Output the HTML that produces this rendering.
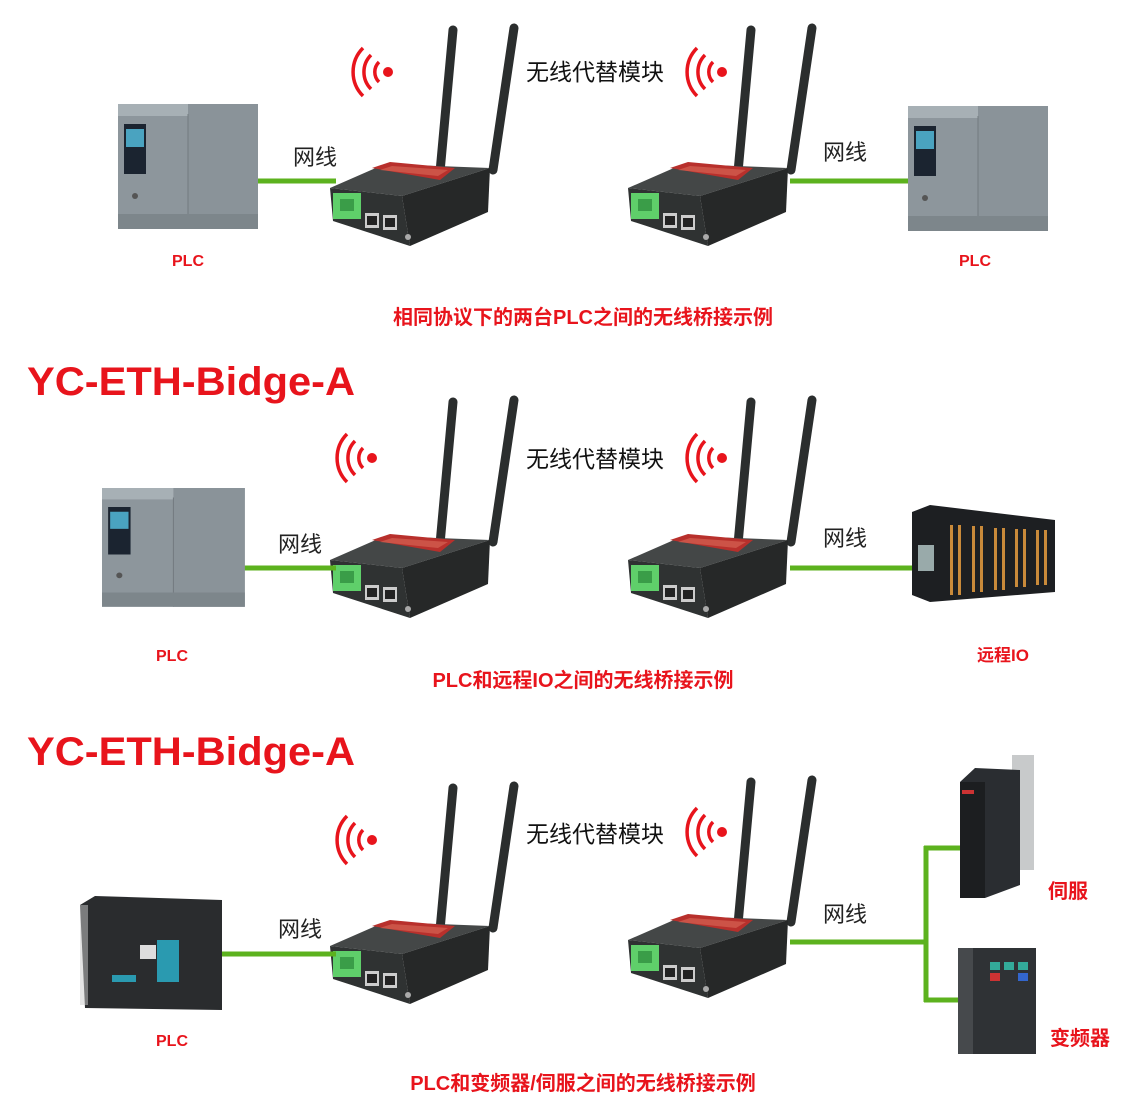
<!DOCTYPE html>
<html><head><meta charset="utf-8"><style>
html,body{margin:0;padding:0;background:#fff;}
svg{display:block;}
text{font-family:"Liberation Sans","Noto Sans CJK SC",sans-serif;}
</style></head><body>
<svg width="1130" height="1111" viewBox="0 0 1130 1111" xmlns="http://www.w3.org/2000/svg">
<defs>
<g id="router">
  <line x1="453" y1="30" x2="440" y2="172" stroke="#2b2e2e" stroke-width="9" stroke-linecap="round"/>
  <line x1="514" y1="28" x2="493" y2="170" stroke="#2b2e2e" stroke-width="9" stroke-linecap="round"/>
  <polygon points="330,188 385,164 490,168 402,196" fill="#444747"/>
  <polygon points="372,168 390,162 455,168 440,180" fill="#b8302c"/>
  <polygon points="380,170 392,166 448,170 438,176" fill="#d86a5a" opacity="0.6"/>
  <polygon points="330,188 402,196 410,246 333,221" fill="#2f3232"/>
  <polygon points="402,196 490,168 488,212 410,246" fill="#262828"/>
  <rect x="333" y="193" width="28" height="26" fill="#5fcf6a"/>
  <rect x="340" y="199" width="14" height="12" fill="#3a9d48"/>
  <rect x="365" y="213" width="14" height="15" fill="#ccc"/>
  <rect x="367" y="216" width="10" height="9" fill="#222"/>
  <rect x="383" y="215" width="14" height="15" fill="#ccc"/>
  <rect x="385" y="218" width="10" height="9" fill="#222"/>
  <circle cx="408" cy="237" r="3" fill="#aaa"/>
</g>
<g id="sig">
  <circle cx="0" cy="0" r="5" fill="#e8141c"/>
  <path d="M-9,-10 A14,14 0 0 0 -9,10" fill="none" stroke="#e8141c" stroke-width="3.5"/>
  <path d="M-17,-17 A24,24 0 0 0 -17,17" fill="none" stroke="#e8141c" stroke-width="3.5"/>
  <path d="M-25,-24 A34,34 0 0 0 -25,24" fill="none" stroke="#e8141c" stroke-width="3.5"/>
</g>
<g id="splc">
  <rect x="0" y="0" width="140" height="125" fill="#8d969c"/>
  <rect x="0" y="0" width="140" height="12" fill="#a7b0b5"/>
  <rect x="70" y="0" width="70" height="125" fill="#8a9399"/>
  <line x1="70" y1="10" x2="70" y2="125" stroke="#737b80"/>
  <rect x="6" y="20" width="22" height="50" fill="#1b2430"/>
  <rect x="8" y="25" width="18" height="18" fill="#4aa3c0"/>
  <circle cx="17" cy="92" r="3" fill="#555"/>
  <rect x="0" y="110" width="140" height="15" fill="#7d868b"/>
</g>
</defs>

<!-- Section 1 -->
<use href="#router"/>
<use href="#router" transform="translate(298,0)"/>
<use href="#sig" transform="translate(388,72)"/>
<use href="#sig" transform="translate(722,72)"/>
<line x1="258" y1="181" x2="336" y2="181" stroke="#5cb21e" stroke-width="5"/>
<line x1="790" y1="181" x2="910" y2="181" stroke="#5cb21e" stroke-width="5"/>
<use href="#splc" transform="translate(118,104)"/>
<use href="#splc" transform="translate(908,106)"/>
<text x="595" y="80" font-size="23" text-anchor="middle" fill="#111">无线代替模块</text>
<text x="293" y="165" font-size="22" fill="#222">网线</text>
<text x="823" y="160" font-size="22" fill="#222">网线</text>
<text x="188" y="266" font-size="16" font-weight="bold" text-anchor="middle" fill="#e8141c">PLC</text>
<text x="975" y="266" font-size="16" font-weight="bold" text-anchor="middle" fill="#e8141c">PLC</text>
<text x="583" y="324" font-size="20" font-weight="bold" text-anchor="middle" fill="#e8141c">相同协议下的两台PLC之间的无线桥接示例</text>

<!-- Section 2 -->
<text x="27" y="395" font-size="40" font-weight="bold" textLength="328" lengthAdjust="spacingAndGlyphs" fill="#e8141c">YC-ETH-Bidge-A</text>
<use href="#router" transform="translate(0,372)"/>
<use href="#router" transform="translate(298,372)"/>
<use href="#sig" transform="translate(372,458)"/>
<use href="#sig" transform="translate(722,458)"/>
<line x1="244" y1="568" x2="336" y2="568" stroke="#5cb21e" stroke-width="5"/>
<line x1="790" y1="568" x2="912" y2="568" stroke="#5cb21e" stroke-width="5"/>
<use href="#splc" transform="translate(102,488) scale(1.02,0.95)"/>
<g>
  <polygon points="912,512 930,505 1055,520 1055,592 930,602 912,595" fill="#1d1f22"/>
  <rect x="918" y="545" width="16" height="26" fill="#9aa"/>
  <g fill="#c98a3a">
    <rect x="950" y="525" width="3" height="70"/><rect x="958" y="525" width="3" height="70"/>
    <rect x="972" y="526" width="3" height="66"/><rect x="980" y="526" width="3" height="66"/>
    <rect x="994" y="528" width="3" height="62"/><rect x="1002" y="528" width="3" height="62"/>
    <rect x="1015" y="529" width="3" height="58"/><rect x="1023" y="529" width="3" height="58"/>
    <rect x="1036" y="530" width="3" height="55"/><rect x="1044" y="530" width="3" height="55"/>
  </g>
</g>
<text x="595" y="467" font-size="23" text-anchor="middle" fill="#111">无线代替模块</text>
<text x="278" y="552" font-size="22" fill="#222">网线</text>
<text x="823" y="546" font-size="22" fill="#222">网线</text>
<text x="172" y="661" font-size="16" font-weight="bold" text-anchor="middle" fill="#e8141c">PLC</text>
<text x="1003" y="661" font-size="17" font-weight="bold" text-anchor="middle" fill="#e8141c">远程IO</text>
<text x="583" y="687" font-size="20" font-weight="bold" text-anchor="middle" fill="#e8141c">PLC和远程IO之间的无线桥接示例</text>

<!-- Section 3 -->
<text x="27" y="765" font-size="40" font-weight="bold" textLength="328" lengthAdjust="spacingAndGlyphs" fill="#e8141c">YC-ETH-Bidge-A</text>
<use href="#router" transform="translate(0,758)"/>
<use href="#router" transform="translate(298,752)"/>
<use href="#sig" transform="translate(372,840)"/>
<use href="#sig" transform="translate(722,832)"/>
<line x1="222" y1="954" x2="336" y2="954" stroke="#5cb21e" stroke-width="5"/>
<line x1="790" y1="942" x2="928" y2="942" stroke="#5cb21e" stroke-width="5"/>
<line x1="926" y1="846" x2="926" y2="1002" stroke="#5cb21e" stroke-width="5"/>
<line x1="924" y1="848" x2="962" y2="848" stroke="#5cb21e" stroke-width="5"/>
<line x1="924" y1="1000" x2="962" y2="1000" stroke="#5cb21e" stroke-width="5"/>
<g>
  <polygon points="80,905 95,896 222,900 222,1010 85,1008" fill="#2a2c2e"/>
  <rect x="80" y="905" width="8" height="100" fill="#ccc" opacity="0.5"/>
  <rect x="140" y="945" width="16" height="14" fill="#ddd"/>
  <rect x="157" y="940" width="22" height="42" fill="#2a9ab0"/>
  <rect x="112" y="975" width="24" height="7" fill="#2a9ab0"/>
</g>
<g>
  <rect x="1012" y="755" width="22" height="115" fill="#c8cacb"/>
  <polygon points="960,782 975,768 1020,770 1020,885 985,898 960,898" fill="#2a2d31"/>
  <rect x="960" y="782" width="25" height="116" fill="#1c1e20"/>
  <rect x="962" y="790" width="12" height="4" fill="#c33"/>
</g>
<g>
  <rect x="958" y="948" width="78" height="106" fill="#2f3235"/>
  <rect x="958" y="948" width="15" height="106" fill="#46494c"/>
  <rect x="990" y="962" width="10" height="8" fill="#3a9"/><rect x="1004" y="962" width="10" height="8" fill="#3a9"/>
  <rect x="1018" y="962" width="10" height="8" fill="#3a9"/>
  <rect x="990" y="973" width="10" height="8" fill="#c33"/><rect x="1018" y="973" width="10" height="8" fill="#36c"/>
</g>
<text x="595" y="842" font-size="23" text-anchor="middle" fill="#111">无线代替模块</text>
<text x="278" y="937" font-size="22" fill="#222">网线</text>
<text x="823" y="922" font-size="22" fill="#222">网线</text>
<text x="172" y="1046" font-size="16" font-weight="bold" text-anchor="middle" fill="#e8141c">PLC</text>
<text x="1068" y="898" font-size="20" font-weight="bold" text-anchor="middle" fill="#e8141c">伺服</text>
<text x="1080" y="1045" font-size="20" font-weight="bold" text-anchor="middle" fill="#e8141c">变频器</text>
<text x="583" y="1090" font-size="20" font-weight="bold" text-anchor="middle" fill="#e8141c">PLC和变频器/伺服之间的无线桥接示例</text>
</svg>
</body></html>
